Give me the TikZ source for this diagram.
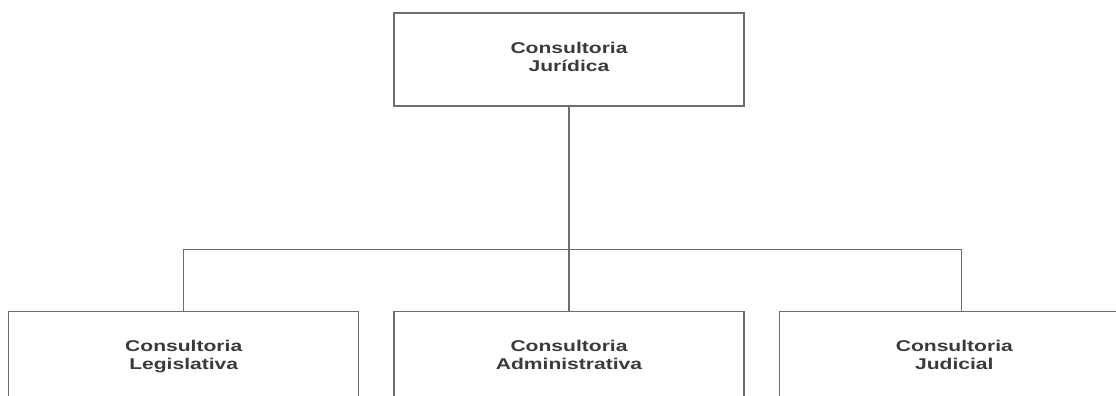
\documentclass[tikz,border=0pt]{standalone}
\usepackage{fontspec}
\newfontfamily\orgfont[FakeStretch=1.35]{Liberation Sans}
\usetikzlibrary{positioning}
\definecolor{boxline}{RGB}{110,110,110}
\definecolor{boxtext}{RGB}{58,58,58}

\begin{document}
\begin{tikzpicture}[x=1pt,y=1pt,
    unit/.style={draw=boxline,line width=1.3pt,minimum width=350pt,minimum height=93pt,
      inner sep=0pt,align=center,text=boxtext,
      execute at begin node=\strut,execute at end node=\strut,
      font=\orgfont\bfseries\fontsize{15.6}{18.5}\selectfont},
    link/.style={draw=boxline,line width=1.3pt}]
  \useasboundingbox (0,0) rectangle (1116,396);
  \clip (0,0) rectangle (1116,396);
  \node[unit] (juridica) at (569,336.5) {Consultoria\\Jurídica};
  \node[unit,below=204pt of juridica] (administrativa) {Consultoria\\Administrativa};
  \node[unit,left=34pt of administrativa] (legislativa) {Consultoria\\Legislativa};
  \node[unit,right=34pt of administrativa] (judicial) {Consultoria\\Judicial};
  \draw[link] (juridica.south) -- (administrativa.north);
  \draw[link] (legislativa.north) -- ++(0,61) -| ([xshift=7pt]judicial.north);
\end{tikzpicture}
\end{document}
